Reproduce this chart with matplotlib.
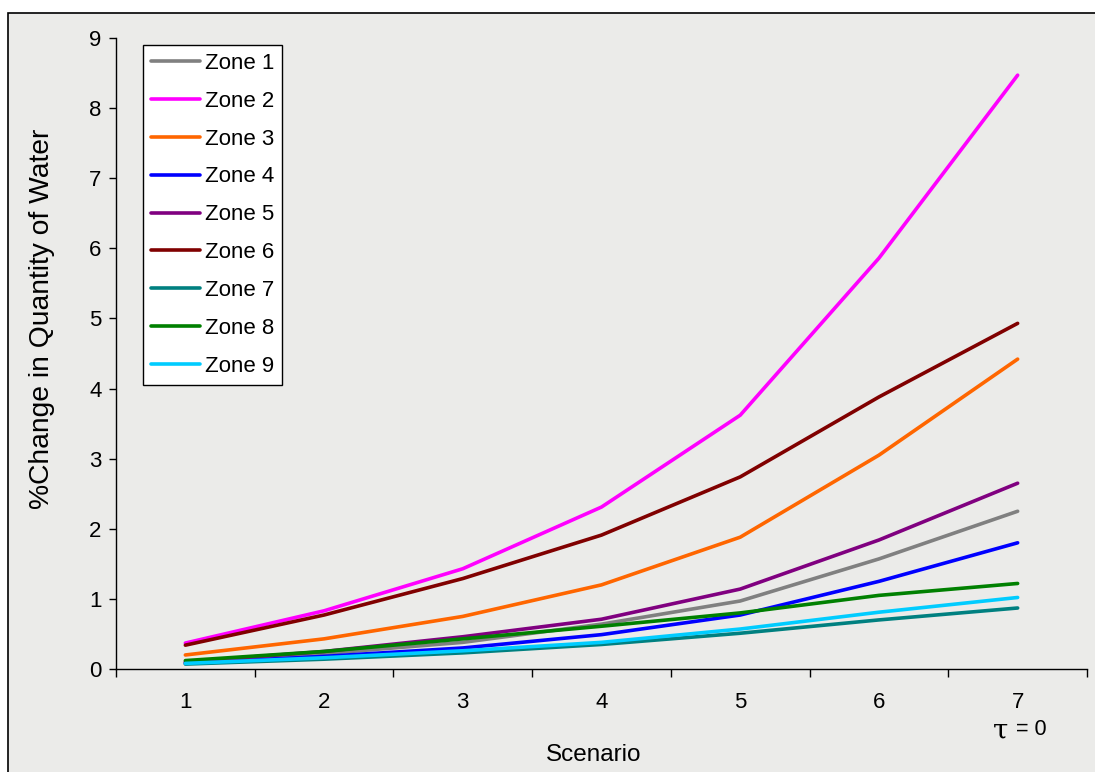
import matplotlib
matplotlib.use("Agg")
import matplotlib.pyplot as plt
from matplotlib.patches import Rectangle
import numpy as np

plt.rcParams['font.family'] = ['Liberation Sans', 'DejaVu Sans']

scenarios = [1, 2, 3, 4, 5, 6, 7]
zone_names = ["Zone 1", "Zone 2", "Zone 3", "Zone 4", "Zone 5",
              "Zone 6", "Zone 7", "Zone 8", "Zone 9"]
zone1 = [0.09, 0.22, 0.38, 0.64, 0.97, 1.57, 2.25]
zone2 = [0.37, 0.83, 1.43, 2.31, 3.62, 5.86, 8.47]
zone3 = [0.20, 0.43, 0.75, 1.20, 1.88, 3.05, 4.42]
zone4 = [0.08, 0.18, 0.30, 0.49, 0.77, 1.25, 1.80]
zone5 = [0.10, 0.25, 0.46, 0.71, 1.14, 1.84, 2.65]
zone6 = [0.34, 0.77, 1.29, 1.91, 2.74, 3.88, 4.93]
zone7 = [0.07, 0.14, 0.23, 0.35, 0.51, 0.70, 0.87]
zone8 = [0.12, 0.25, 0.43, 0.61, 0.80, 1.05, 1.22]
zone9 = [0.08, 0.16, 0.26, 0.38, 0.57, 0.81, 1.02]
zones = [zone1, zone2, zone3, zone4, zone5, zone6, zone7, zone8, zone9]
colors = ["#808080", "#FF00FF", "#FF6600", "#0000FF", "#800080",
          "#800000", "#008080", "#008000", "#00CCFF"]

W, H = 1095, 772
fig = plt.figure(figsize=(W / 100, H / 100), dpi=100, facecolor="white")
bg = "#ebebe9"
fig.patches.append(Rectangle((8 / W, -0.01), 1.01, 1 - 13 / H + 0.01,
                             transform=fig.transFigure, facecolor=bg,
                             edgecolor="black", linewidth=1.2, zorder=-10))

ax = fig.add_axes([116 / W, 1 - 669 / H, (1087 - 116) / W, (669 - 38) / H])
ax.set_facecolor("none")

for name, vals, c in zip(zone_names, zones, colors):
    ax.plot(scenarios, vals, color=c, linewidth=2.6, label=name,
            solid_capstyle="round", solid_joinstyle="round")

ax.set_xlim(0.5, 7.5)
ax.set_ylim(0, 9)
ax.set_yticks(range(0, 10))
ax.set_xticks(np.arange(0.5, 8.0, 1.0))
ax.set_xticklabels([])
ax.set_xticks(scenarios, minor=True)
ax.set_xticklabels([str(s) for s in scenarios], minor=True)
ax.tick_params(axis="x", which="minor", length=0, pad=16.5, labelsize=16)
ax.tick_params(axis="x", which="major", length=6, width=1, direction="out")
ax.tick_params(axis="y", length=5, width=1, direction="out", labelsize=16, pad=5.5)

for s in ["top", "right"]:
    ax.spines[s].set_visible(False)
for s in ["left", "bottom"]:
    ax.spines[s].set_linewidth(1)
    ax.spines[s].set_color("black")

ax.set_ylabel("%Change in Quantity of Water", fontsize=20.3)
ax.yaxis.set_label_coords(-0.063, 0.555)
ax.set_xlabel("Scenario", fontsize=17.5)
ax.xaxis.set_label_coords(0.492, -0.119)

leg = ax.legend(loc="upper left",
                bbox_to_anchor=((143 - 116) / (1087 - 116), 1 - 7 / 631),
                fontsize=16, frameon=True, fancybox=False, framealpha=1,
                edgecolor="black", handlelength=2.2, handletextpad=0.25,
                labelspacing=0.76, borderpad=0.35, borderaxespad=0)
leg.get_frame().set_linewidth(1)

fig.text(1001 / W, 1 - 739 / H, "τ", fontsize=20, ha="center", va="baseline",
         family="DejaVu Serif")
fig.text(1031 / W, 1 - 735 / H, "= 0", fontsize=15.5, ha="center", va="baseline")

fig.savefig("out.png", dpi=100, facecolor=fig.get_facecolor())
